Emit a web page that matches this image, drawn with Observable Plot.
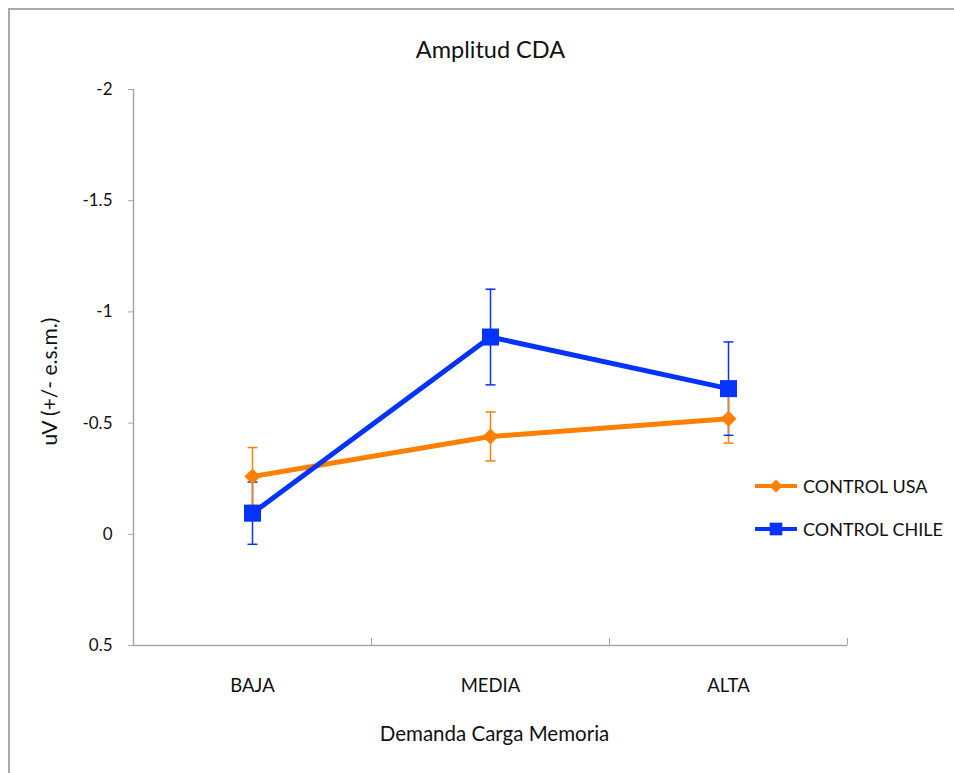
<!DOCTYPE html>
<html><head><meta charset="utf-8">
<script src="https://cdn.jsdelivr.net/npm/d3@7"></script>
<script src="https://cdn.jsdelivr.net/npm/@observablehq/plot@0.6"></script>
<style>
body{margin:0;background:#fff;}
#wrap{position:relative;width:954px;height:773px;overflow:hidden;font-family:Lato,sans-serif;}
#border{position:absolute;left:8px;top:8px;width:960px;height:780px;border-top:2px solid #a9a9a9;border-left:2px solid #a9a9a9;pointer-events:none;}
#chart{position:absolute;left:0;top:0;}
#legend{position:absolute;left:755px;top:472px;font-size:18px;color:#111;}
.row{display:flex;align-items:center;height:28px;margin-bottom:15px;white-space:nowrap}
.row svg{margin-right:4px}
</style></head><body><div id="wrap"><div id="chart"></div><div id="border"></div><div id="legend"></div></div>
<script>
const categories = ["BAJA", "MEDIA", "ALTA"];
const series = ["CONTROL USA", "CONTROL CHILE"];
const usaMean = [-0.26, -0.44, -0.52];
const usaErr = [0.13, 0.11, 0.11];
const chileMean = [-0.095, -0.887, -0.655];
const chileErr = [0.14, 0.215, 0.21];
const yTicks = [-2, -1.5, -1, -0.5, 0, 0.5];
const colors = ["#ff8000", "#0433ff"];

const W = 954, H = 773, mL = 133, mR = 107, mT = 89, mB = 128;
const half = (W - mL - mR) / categories.length / 2;
const gray = "#a6a6a6";
const txt = "#111";

const means = [usaMean, chileMean];
const errs = [usaErr, chileErr];
const rows = [];
series.forEach((s, i) => categories.forEach((c, j) => rows.push({cat: c, series: s, v: means[i][j], e: errs[i][j]})));
const usa = rows.filter(d => d.series === series[0]);
const chile = rows.filter(d => d.series === series[1]);
const errOrder = [...chile, ...usa];

const cap = {draw(ctx) { ctx.moveTo(-5, 0); ctx.lineTo(5, 0); }};

const chart = Plot.plot({
  width: W, height: H,
  marginLeft: mL, marginRight: mR, marginTop: mT, marginBottom: mB,
  style: {fontFamily: "Lato, sans-serif", fontSize: "17px", background: "transparent", overflow: "visible", color: txt},
  x: {type: "point", domain: categories, padding: 0.5, axis: null},
  y: {domain: [yTicks[yTicks.length - 1], yTicks[0]], axis: null},
  color: {domain: series, range: colors},
  marks: [
    Plot.ruleY([yTicks[yTicks.length - 1]], {stroke: gray, strokeWidth: 1.5}),
    Plot.ruleX([categories[0]], {dx: -half, y1: yTicks[0], y2: yTicks[yTicks.length - 1], stroke: gray, strokeWidth: 1.5}),
    Plot.axisY({ticks: yTicks, tickSize: 5, tickPadding: 16, tickFormat: d => String(d), stroke: gray, fill: txt, fontSize: 17, label: null}),
    Plot.axisX({tickSize: 0, tickPadding: 33, fontSize: 18.5, fill: txt, label: null}),
    Plot.axisX({ticks: categories, tickSize: -7, tickFormat: () => "", dx: half, stroke: gray, label: null}),
    Plot.ruleX(errOrder, {x: "cat", y1: d => d.v - d.e, y2: d => d.v + d.e, stroke: "series", strokeWidth: 1.5}),
    Plot.dot(errOrder, {x: "cat", y: d => d.v - d.e, symbol: cap, stroke: "series", strokeWidth: 1.5}),
    Plot.dot(errOrder, {x: "cat", y: d => d.v + d.e, symbol: cap, stroke: "series", strokeWidth: 1.5}),
    Plot.line(usa, {x: "cat", y: "v", stroke: "series", strokeWidth: 5}),
    Plot.dot(usa, {x: "cat", y: "v", symbol: "diamond2", r: 7.2, fill: "series", stroke: null}),
    Plot.line(chile, {x: "cat", y: "v", stroke: "series", strokeWidth: 5}),
    Plot.dot(chile, {x: "cat", y: "v", symbol: "square", r: 9.6, fill: "series", stroke: null}),
    Plot.text(["Amplitud CDA"], {frameAnchor: "top", lineAnchor: "middle", dy: -39, fontSize: 23.5, fill: txt}),
    Plot.text(["uV (+/- e.s.m.)"], {frameAnchor: "left", textAnchor: "middle", lineAnchor: "middle", rotate: -90, dx: -83, dy: 14, fontSize: 21, letterSpacing: "0.6px", fill: txt}),
    Plot.text(["Demanda Carga Memoria"], {frameAnchor: "bottom", lineAnchor: "middle", dx: 4, dy: 89, fontSize: 20.5, fill: txt})
  ]
});
document.getElementById("chart").appendChild(chart);

const legend = document.getElementById("legend");
series.forEach((s, i) => {
  const row = document.createElement("div");
  row.className = "row";
  const svg = d3.create("svg").attr("width", 44).attr("height", 28);
  svg.append("line").attr("x1", 0).attr("x2", 42).attr("y1", 14).attr("y2", 14).attr("stroke", colors[i]).attr("stroke-width", 4);
  svg.append("path").attr("transform", "translate(21,14)")
    .attr("d", d3.symbol(i === 0 ? d3.symbolDiamond2 : d3.symbolSquare, i === 0 ? 110 : 160)())
    .attr("fill", colors[i]);
  row.appendChild(svg.node());
  const span = document.createElement("span");
  span.textContent = s;
  row.appendChild(span);
  legend.appendChild(row);
});
</script>
</body></html>
